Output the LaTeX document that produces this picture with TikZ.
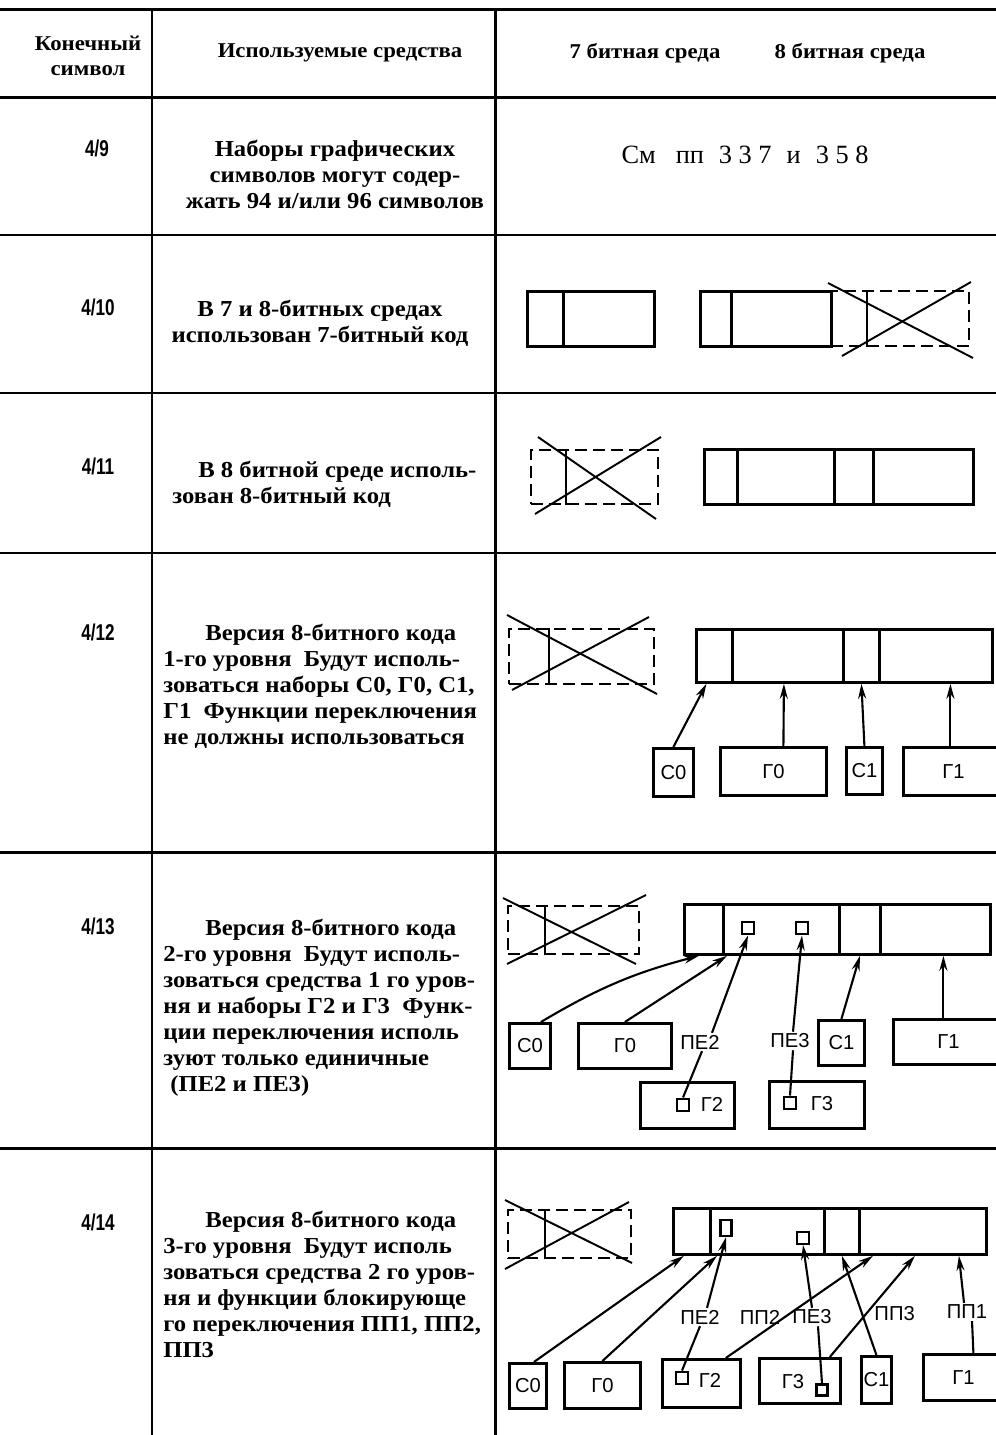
\documentclass[tikz,border=0pt]{standalone}
\usepackage{fontspec}
\setmainfont{Liberation Serif}
\newfontfamily\descfont[FakeStretch=1.08]{Liberation Serif}
\newfontfamily\lblfont{Liberation Sans}
\newfontfamily\numfont[FakeStretch=0.75]{Liberation Sans}
\usetikzlibrary{arrows.meta}

\tikzset{
	rule/.style={line width=1.7pt},
	box/.style 2 args={draw, line width=1.6pt, inner sep=0pt, anchor=north west,
		minimum width={#1*0.02cm}, minimum height={#2*0.02cm}},
	offbox/.style 2 args={box={#1}{#2}, line width=1.3pt, dash pattern=on 0.24cm off 0.12cm},
	cross/.style={line width=1.1pt},
	bit/.style={draw, line width=1.4pt, inner sep=0pt, minimum size=0.25cm},
	lbl/.style={font=\lblfont\fontsize{11.5}{13}\selectfont, inner sep=1pt},
	arr/.style={line width=1.2pt, -{Stealth[length=0.3cm, width=0.16cm]}},
	wire/.style={line width=1.2pt},
	num/.style={font=\numfont\bfseries\fontsize{13}{15}\selectfont},
	desc/.style={font=\descfont\bfseries\fontsize{13}{14.8}\selectfont, inner sep=0pt},
	head/.style={font=\descfont\bfseries\fontsize{12}{14}\selectfont, align=center}
}

\begin{document}
\begin{tikzpicture}[x=0.02cm, y=-0.02cm]
	\useasboundingbox (0,0) rectangle (996,1435);

	% table
	\foreach \y in {10,98,235,393,553,852,1148}
		\draw[rule] (0,\y) -- (996,\y);
	\draw[rule] (152,10) -- (152,1435);
	\draw[rule] (495,10) -- (495,1435);

	\node[head] (hsym) at (88,56) {Конечный\\символ};
	\node[head] (huse) at (340,53) {Используемые средства};
	\node[head] (h7) at (645,53) {7 битная среда};
	\node[head] (h8) at (850,53) {8 битная среда};

	\node[num] (n9) at (97,148) {4/9};
	\node[num] (n10) at (98,307) {4/10};
	\node[num] (n11) at (98,466) {4/11};
	\node[num] (n12) at (98,632) {4/12};
	\node[num] (n13) at (98,926) {4/13};
	\node[num] (n14) at (98,1222) {4/14};

	\node[desc, align=center, anchor=north] (t9) at (335,140)
		{Наборы графических\\символов могут содер-\\жать 94 и/или 96 символов};
	\node[desc, align=center, anchor=north] (t10) at (320,300)
		{В 7 и 8-битных средах\\использован 7-битный код};
	\node[desc, align=left, anchor=north west] (t11) at (172,461)
		{\hspace*{0.52cm}В 8 битной среде исполь-\\зован 8-битный код};
	\node[desc, align=left, anchor=north west] (t12) at (163,624)
		{\hspace*{0.84cm}Версия 8-битного кода\\1-го уровня~ Будут исполь-\\зоваться наборы С0, Г0, С1,\\Г1~ Функции переключения\\не должны использоваться};
	\node[desc, align=left, anchor=north west] (t13) at (163,919)
		{\hspace*{0.84cm}Версия 8-битного кода\\2-го уровня~ Будут исполь-\\зоваться средства 1 го уров-\\ня и наборы Г2 и Г3~ Функ-\\ции переключения исполь\\зуют только единичные\\\hspace*{0.14cm}(ПЕ2 и ПЕ3)};
	\node[desc, align=left, anchor=north west] (t14) at (163,1211)
		{\hspace*{0.84cm}Версия 8-битного кода\\3-го уровня~ Будут исполь\\зоваться средства 2 го уров-\\ня и функции блокирующе\\го переключения ПП1, ПП2,\\ПП3};

	\node[font=\fontsize{15}{17}\selectfont] (see9) at (745,155)
		{См\hskip 0.4cm пп\hskip 0.3cm 3 3 7\hskip 0.3cm и\hskip 0.3cm 3 5 8};

	% 4/10
	\node[box={36}{55}] (c10a) at (526,290) {};
	\node[box={91}{55}] (c10b) at (562,290) {};
	\node[box={31}{55}] (c10c) at (699,290) {};
	\node[box={100}{55}] (c10d) at (730,290) {};
	\node[offbox={138}{55}] (off10) at (830,290) {};
	\draw[line width=1.6pt] ([shift={(37,0)}]off10.north west) -- ([shift={(37,0)}]off10.south west);
	\draw[cross] (828,283) -- (973,358);
	\draw[cross] (842,356) -- (971,282);

	% 4/11
	\node[offbox={127}{54}] (off11) at (530,449) {};
	\draw[line width=1.6pt] ([shift={(36,0)}]off11.north west) -- ([shift={(36,0)}]off11.south west);
	\draw[cross] (538,437) -- (656,519);
	\draw[cross] (535,514) -- (661,437);
	\node[box={33}{55}] (c11a) at (703,448) {};
	\node[box={97}{55}] (c11b) at (736,448) {};
	\node[box={39}{55}] (c11c) at (833,448) {};
	\node[box={100}{55}] (c11d) at (872,448) {};

	% 4/12
	\node[offbox={145}{55}] (off12) at (508,628) {};
	\draw[line width=1.6pt] ([shift={(41,0)}]off12.north west) -- ([shift={(41,0)}]off12.south west);
	\draw[cross] (507,615) -- (657,694);
	\draw[cross] (512,690) -- (649,617);
	\node[box={36}{53}] (c12a) at (695,628) {};
	\node[box={111}{53}] (c12b) at (731,628) {};
	\node[box={36}{53}] (c12c) at (842,628) {};
	\node[box={113}{53}] (c12d) at (878,628) {};
	\node[box={40}{48}, lbl] (s12c0) at (652,747) {С0};
	\node[box={106}{48}, lbl] (s12g0) at (719,746) {Г0};
	\node[box={36}{47}, lbl] (s12c1) at (845,746) {С1};
	\node[box={100}{48}, lbl] (s12g1) at (902,746) {Г1};
	\draw[arr] (s12c0.north) -- ([shift={(-8,0)}]c12a.south);
	\draw[arr] ([shift={(10,0)}]s12g0.north) -- ([shift={(-4,0)}]c12b.south);
	\draw[arr] (s12c1.north) -- (c12c.south);
	\draw[arr] ([shift={(-3,0)}]s12g1.north) -- ([shift={(-3,0)}]s12g1.north |- c12d.south);

	% 4/13
	\node[offbox={131}{48}] (off13) at (507,905) {};
	\draw[line width=1.6pt] ([shift={(38,0)}]off13.north west) -- ([shift={(38,0)}]off13.south west);
	\draw[cross] (503,898) -- (636,964);
	\draw[cross] (507,964) -- (646,895);
	\node[box={39}{50}] (c13a) at (683,903) {};
	\node[box={116}{50}] (c13b) at (722,903) {};
	\node[box={41}{50}] (c13c) at (838,903) {};
	\node[box={110}{50}] (c13d) at (879,903) {};
	\node[bit] (b13pe2) at (748,928) {};
	\node[bit] (b13pe3) at (802,928) {};
	\node[box={41}{45}, lbl] (s13c0) at (508,1022) {С0};
	\node[box={93}{45}, lbl] (s13g0) at (577,1022) {Г0};
	\node[box={46}{45}, lbl] (s13c1) at (817,1019) {С1};
	\node[box={110}{45}, lbl] (s13g1) at (892,1018) {Г1};
	\node[box={94}{46}] (s13g2) at (639,1081) {};
	\node[bit] (b13g2) at (683,1105) {};
	\node[lbl] (l13g2) at (712,1104) {Г2};
	\node[box={95}{47}] (s13g3) at (768,1080) {};
	\node[bit] (b13g3) at (790,1103) {};
	\node[lbl] (l13g3) at (822,1104) {Г3};
	\node[lbl] (pe2a) at (700,1042) {ПЕ2};
	\node[lbl] (pe3a) at (790,1041) {ПЕ3};
	\draw[arr] ([shift={(11,0)}]s13c0.north) to[bend left=8] ([shift={(-5,0)}]c13a.south);
	\draw[arr] (s13g0.north) -- ([shift={(5,0)}]c13b.south west);
	\draw[arr] ([shift={(12,0)}]pe2a.north) -- (b13pe2.south);
	\draw[wire] (b13g2.north) -- ([shift={(2,0)}]pe2a.south);
	\draw[arr] ([shift={(3,0)}]pe3a.north) -- (b13pe3.south);
	\draw[wire] (b13g3.north) -- ([shift={(3,0)}]pe3a.south);
	\draw[arr] (s13c1.north) -- (c13c.south);
	\draw[arr] ([shift={(-5,0)}]s13g1.north) -- ([shift={(-5,0)}]s13g1.north |- c13d.south);

	% 4/14
	\node[offbox={123}{48}] (off14) at (507,1209) {};
	\draw[line width=1.6pt] ([shift={(38,0)}]off14.north west) -- ([shift={(38,0)}]off14.south west);
	\draw[cross] (505,1200) -- (632,1263);
	\draw[cross] (505,1269) -- (629,1202);
	\node[box={37}{46}] (c14a) at (672,1207) {};
	\node[box={114}{46}] (c14b) at (709,1207) {};
	\node[box={35}{46}] (c14c) at (823,1207) {};
	\node[box={127}{46}] (c14d) at (858,1207) {};
	\node[bit, minimum width=0.22cm, minimum height=0.32cm] (b14pe2) at (726,1228) {};
	\node[bit, minimum size=0.23cm] (b14pe3) at (803,1238) {};
	\node[box={37}{45}, lbl] (s14c0) at (508,1362) {С0};
	\node[box={76}{46}, lbl] (s14g0) at (563,1361) {Г0};
	\node[box={78}{48}] (s14g2) at (661,1358) {};
	\node[bit] (b14g2) at (682,1378) {};
	\node[lbl] (l14g2) at (710,1380) {Г2};
	\node[box={81}{45}] (s14g3) at (758,1357) {};
	\node[bit, minimum size=0.22cm] (b14g3) at (822,1390) {};
	\node[lbl] (l14g3) at (793,1382) {Г3};
	\node[box={30}{47}, lbl] (s14c1) at (860,1355) {С1};
	\node[box={80}{46}, lbl] (s14g1) at (922,1353) {Г1};
	\node[lbl] (pe2b) at (700,1317) {ПЕ2};
	\node[lbl] (pe3b) at (812,1317) {ПЕ3};
	\node[lbl] (pp1b) at (967,1312) {ПП1};
	\draw[arr] ([shift={(6,0)}]s14c0.north) -- ([shift={(-8,0)}]c14a.south);
	\draw[arr] (s14g0.north) -- ([shift={(8,0)}]c14b.south west);
	\draw[arr] ([shift={(7,0)}]pe2b.north) -- (b14pe2.south);
	\draw[wire] (b14g2.north) -- (pe2b.south);
	\draw[arr] (pe3b.north) -- (b14pe3.south);
	\draw[wire] (b14g3.north) -- ([shift={(6,0)}]pe3b.south);
	\draw[arr] ([shift={(-16,0)}]s14g2.north east) -- node[lbl, pos=0.4, left=1pt] (pp2b) {ПП2} ([shift={(15,0)}]c14d.south west);
	\draw[arr] (s14c1.north) -- (c14c.south);
	\draw[arr] ([shift={(-12,0)}]s14g3.north east) -- node[lbl, pos=0.43, right=3pt] (pp3b) {ПП3} ([shift={(-8,0)}]c14d.south);
	\draw[wire] ([shift={(10,0)}]s14g1.north) -- ([shift={(5,0)}]pp1b.south);
	\draw[arr] ([shift={(-3,0)}]pp1b.north) -- ([shift={(36,0)}]c14d.south);
\end{tikzpicture}
\end{document}
